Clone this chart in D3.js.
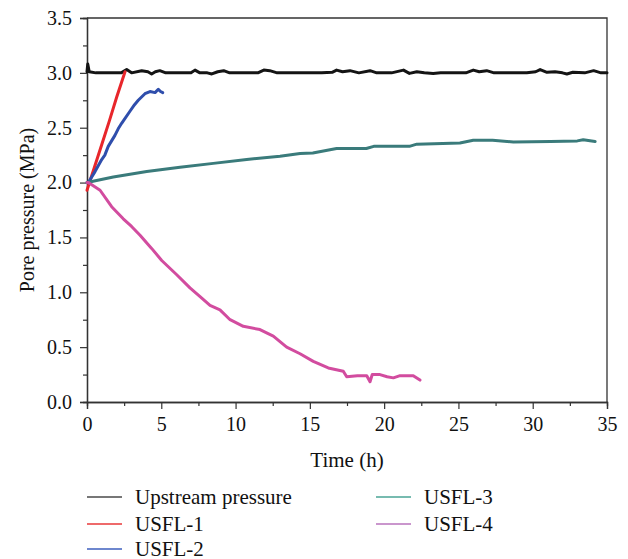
<!DOCTYPE html>
<html>
<head>
<meta charset="utf-8">
<script src="https://cdn.jsdelivr.net/npm/d3@7"></script>
<style>
  body { margin: 0; background: #fff; }
  text { font-family: "Liberation Serif", "Times New Roman", serif; fill: #111; }
</style>
</head>
<body>
<div id="d3-container"></div>
<script>
/**
 * CONSTANTS AND GLOBALS
 * */
const width = 628,
  height = 559,
  margin = { top: 18, bottom: 157, left: 87, right: 21 };

/**
 * DATA
 * */
const xTicks = [0, 5, 10, 15, 20, 25, 30, 35];
const yTicks = [0.0, 0.5, 1.0, 1.5, 2.0, 2.5, 3.0, 3.5];

const upstreamTime = [0, 0.05, 0.15, 0.6, 1.5, 2.3, 2.67, 3.0, 3.68, 4.1, 4.35, 4.6, 4.9, 5.3, 6.2, 7.0, 7.27, 7.6,
  8.1, 8.4, 8.8, 9.2, 9.6, 10.5, 11.5, 11.9, 12.3, 12.8, 13.8, 14.8, 15.8, 16.5, 16.8, 17.2, 17.7, 18.3, 19.05,
  19.5, 20.5, 21.3, 21.7, 22.2, 22.7, 23.3, 23.8, 24.8, 25.5, 26.0, 26.4, 26.9, 27.4, 28.0, 28.6, 29.6, 30.2,
  30.5, 30.96, 31.5, 32.0, 32.3, 32.7, 33.5, 34.1, 34.6, 35];
const upstreamValue = [3.01, 3.08, 3.01, 3.0, 3.0, 3.0, 3.03, 3.0, 3.02, 3.01, 2.99, 3.01, 3.02, 3.0, 3.0, 3.0, 3.025, 3.0,
  3.0, 2.99, 3.01, 3.02, 3.0, 3.0, 3.0, 3.025, 3.02, 3.0, 3.0, 3.0, 3.0, 3.005, 3.025, 3.01, 3.02, 3.0, 3.02,
  3.0, 3.0, 3.025, 2.995, 3.01, 3.0, 2.995, 3.0, 3.0, 3.0, 3.025, 3.01, 3.02, 3.0, 3.0, 3.0, 3.0, 3.01,
  3.03, 3.005, 3.01, 3.0, 2.99, 3.005, 3.0, 3.02, 3.0, 3.0];

const usfl1Time = [0, 0.5, 1.0, 1.5, 2.0, 2.56];
const usfl1Value = [1.93, 2.14, 2.35, 2.56, 2.78, 3.01];

const usfl2Time = [0, 0.13, 0.54, 0.99, 1.2, 1.43, 1.88, 2.1, 2.33, 2.89, 3.2, 3.45, 3.9, 4.24, 4.58, 4.8, 4.95, 5.1];
const usfl2Value = [2.0, 2.01, 2.10, 2.21, 2.25, 2.33, 2.43, 2.49, 2.54, 2.65, 2.71, 2.75, 2.81, 2.83, 2.82, 2.85, 2.83, 2.82];

const usfl3Time = [0, 1.77, 4.02, 6.26, 8.5, 10.75, 12.99, 14.34, 15.2, 16.8, 18.8, 19.3, 21.7, 22.2, 25.1, 26.0,
  27.3, 28.7, 31.2, 33.0, 33.4, 34.2];
const usfl3Value = [2.0, 2.05, 2.10, 2.14, 2.175, 2.21, 2.24, 2.265, 2.27, 2.31, 2.31, 2.33, 2.33, 2.35, 2.36, 2.385,
  2.385, 2.37, 2.375, 2.38, 2.39, 2.375];

const usfl4Time = [0, 0.09, 0.88, 1.66, 2.44, 3.0, 3.57, 4.35, 5.03, 6.04, 6.93, 7.61, 8.28, 8.95, 9.63, 10.52,
  11.64, 12.54, 13.44, 14.34, 15.23, 16.24, 17.25, 17.48, 18.2, 18.83, 19.05, 19.2, 19.72, 20.2, 20.62, 21.07,
  21.96, 22.41];
const usfl4Value = [2.0, 2.0, 1.93, 1.78, 1.67, 1.60, 1.52, 1.40, 1.29, 1.16, 1.04, 0.96, 0.88, 0.84, 0.75, 0.69,
  0.66, 0.60, 0.50, 0.44, 0.37, 0.31, 0.28, 0.23, 0.24, 0.24, 0.185, 0.25, 0.25, 0.23, 0.22, 0.24,
  0.24, 0.20];

const seriesNames = ["Upstream pressure", "USFL-1", "USFL-2", "USFL-3", "USFL-4"];
const lineColors = ["#141414", "#e8262b", "#2f4eac", "#3a7b7b", "#d24c9f"];
const legendColors = ["#4a4a4a", "#e8383a", "#3e5fbe", "#4aa596", "#b873bd"];

let svg;
let xScale;
let yScale;

function init() {
  const series = [
    { name: seriesNames[0], t: upstreamTime, v: upstreamValue },
    { name: seriesNames[1], t: usfl1Time, v: usfl1Value },
    { name: seriesNames[2], t: usfl2Time, v: usfl2Value },
    { name: seriesNames[3], t: usfl3Time, v: usfl3Value },
    { name: seriesNames[4], t: usfl4Time, v: usfl4Value },
  ].map((s, i) => ({ name: s.name, color: lineColors[i], points: s.t.map((t, j) => [t, s.v[j]]) }));

  // SCALES
  xScale = d3.scaleLinear().domain([0, 35]).range([margin.left, width - margin.right]);
  yScale = d3.scaleLinear().domain([0, 3.5]).range([height - margin.bottom, margin.top]);

  svg = d3.select("#d3-container")
    .append("svg")
    .attr("width", width)
    .attr("height", height);

  const x0 = xScale(0), x1 = xScale(35), y0 = yScale(0), y1 = yScale(3.5);

  // frame (top + right)
  svg.append("path")
    .attr("d", `M${x0},${y1}H${x1}V${y0}`)
    .attr("fill", "none")
    .attr("stroke", "#333")
    .attr("stroke-width", 1.3);

  // minor ticks
  const xAxisMinor = d3.axisBottom(xScale).tickValues(d3.range(2.5, 35, 5)).tickSize(4).tickFormat("");
  const yAxisMinor = d3.axisLeft(yScale).tickValues(d3.range(0.25, 3.5, 0.5)).tickSize(4).tickFormat("");
  // major ticks
  const xAxis = d3.axisBottom(xScale).tickValues(xTicks).tickSize(7).tickPadding(8).tickFormat(d3.format("d"));
  const yAxis = d3.axisLeft(yScale).tickValues(yTicks).tickSize(7).tickPadding(8).tickFormat(d3.format(".1f"));

  [xAxisMinor, xAxis].forEach(ax => {
    svg.append("g")
      .attr("class", "axis x-axis")
      .attr("transform", `translate(0,${y0})`)
      .call(ax);
  });
  [yAxisMinor, yAxis].forEach(ax => {
    svg.append("g")
      .attr("class", "axis y-axis")
      .attr("transform", `translate(${x0},0)`)
      .call(ax);
  });

  svg.selectAll(".axis path.domain").attr("stroke", "#333").attr("stroke-width", 1.3);
  svg.selectAll(".axis line").attr("stroke", "#333").attr("stroke-width", 1.2);
  svg.selectAll(".axis text")
    .attr("font-family", "'Liberation Serif', serif")
    .attr("font-size", 20)
    .attr("fill", "#111");

  // axis labels
  svg.append("text")
    .attr("x", (x0 + x1) / 2)
    .attr("y", 467)
    .attr("text-anchor", "middle")
    .attr("font-size", 21)
    .text("Time (h)");

  svg.append("text")
    .attr("transform", `translate(34,${(y0 + y1) / 2}) rotate(-90)`)
    .attr("text-anchor", "middle")
    .attr("font-size", 20)
    .text("Pore pressure (MPa)");

  // LINES
  const line = d3.line().x(d => xScale(d[0])).y(d => yScale(d[1])).curve(d3.curveLinear);

  svg.selectAll(".series")
    .data(series)
    .join("path")
    .attr("class", "series")
    .attr("d", d => line(d.points))
    .attr("fill", "none")
    .attr("stroke", d => d.color)
    .attr("stroke-width", 3)
    .attr("stroke-linejoin", "round")
    .attr("stroke-linecap", "round");

  // LEGEND
  const legendPos = [[87, 497], [87, 524], [87, 549], [376, 497], [376, 524]];
  const legend = svg.selectAll(".legend")
    .data(series)
    .join("g")
    .attr("class", "legend")
    .attr("transform", (d, i) => `translate(${legendPos[i][0]},${legendPos[i][1]})`);

  legend.append("line")
    .attr("x1", 0).attr("x2", 35)
    .attr("y1", 0).attr("y2", 0)
    .attr("stroke", (d, i) => legendColors[i])
    .attr("stroke-width", 1.5);

  legend.append("text")
    .attr("x", 48)
    .attr("y", 6.5)
    .attr("font-size", 21)
    .text(d => d.name);
}

init();
</script>
</body>
</html>
